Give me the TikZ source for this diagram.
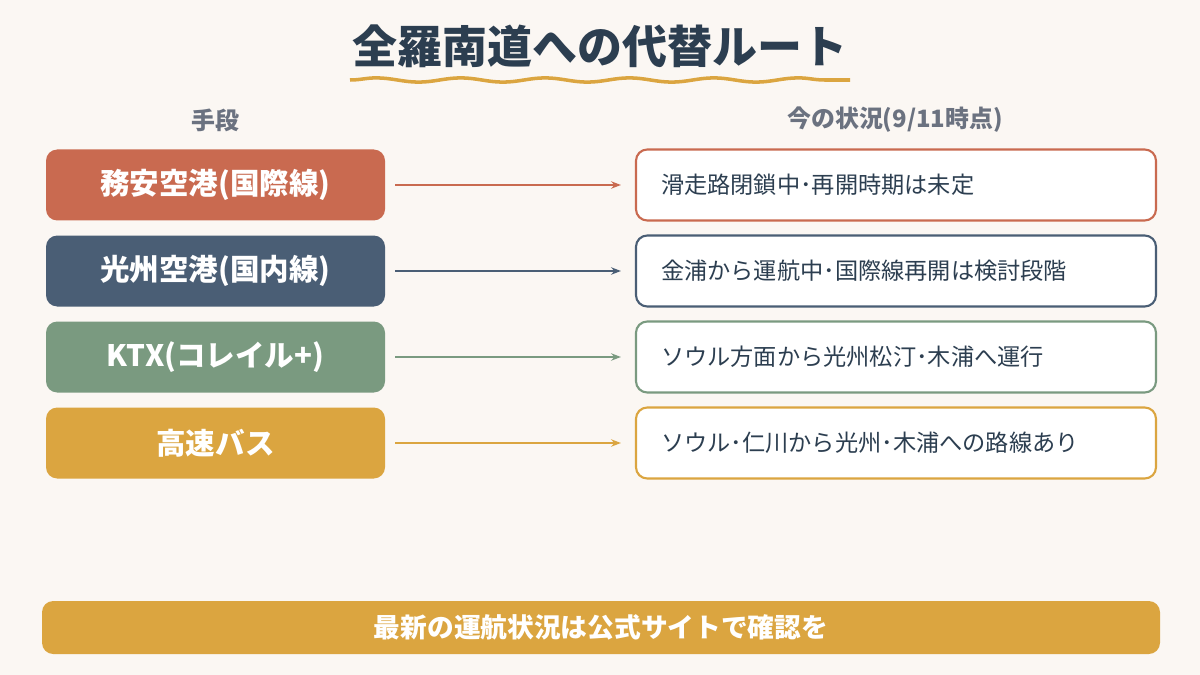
\documentclass[tikz,border=0pt]{standalone}
\usepackage{fontspec}
\setmainfont{Noto Sans CJK JP}
\usetikzlibrary{arrows.meta, positioning, decorations.pathmorphing}
\definecolor{bgcream}{HTML}{FBF7F3}
\definecolor{titledark}{HTML}{2C3E50}
\definecolor{headgrey}{HTML}{6B7280}
\definecolor{routered}{HTML}{C96A50}
\definecolor{routenavy}{HTML}{4A5E75}
\definecolor{routegreen}{HTML}{7A9A80}
\definecolor{routegold}{HTML}{DBA540}
\tikzset{
  means/.style={draw=none, rounded corners=8pt, minimum width=339*0.025cm, minimum height=71*0.025cm, text=white, font=\fontsize{21}{21}\selectfont\bfseries},
  status/.style={fill=white, line width=1.5pt, rounded corners=8pt, minimum width=520*0.025cm, minimum height=71*0.025cm, text width=470*0.025cm, align=left, text=titledark, font=\fontsize{16.5}{16.5}\selectfont},
  head/.style={text=headgrey, font=\fontsize{17}{17}\selectfont\bfseries},
  link/.style={line width=1.2pt, -{Stealth[length=7pt]}}
}
\begin{document}
\begin{tikzpicture}[x=0.025cm, y=-0.025cm]
  % Background
  \fill[bgcream] (0,0) rectangle (1200,675);
  \useasboundingbox (0,0) rectangle (1200,675);

  % Title
  \node[text=titledark, font=\fontsize{32}{32}\selectfont\bfseries] (title) at (600,46) {全羅南道への代替ルート};
  \draw[routegold, line width=2.5pt, decorate, decoration={snake, amplitude=1.5pt, segment length=60pt}] (350,80) -- (850,80);

  % Column heads
  \node[head] (headL) at (215,120) {手段};
  \node[head] (headR) at (895,120) {今の状況(9/11時点)};

  % Rows
  \foreach \y/\col/\nm/\lbl/\txt in {
      185/routered/a/務安空港(国際線)/滑走路閉鎖中･再開時期は未定,
      271/routenavy/b/光州空港(国内線)/金浦から運航中･国際線再開は検討段階,
      357/routegreen/c/KTX(コレイル+)/ソウル方面から光州松汀･木浦へ運行,
      443/routegold/d/高速バス/ソウル･仁川から光州･木浦への路線あり} {
    \node[means, fill=\col] (m\nm) at (215.5,\y) {\lbl};
    \node[status, draw=\col] (s\nm) at (896,\y) {\txt};
    \draw[link, \col] ([xshift=10*0.025cm]m\nm.east) -- ([xshift=-14*0.025cm]s\nm.west);
  }

  % Bottom note
  \node[fill=routegold, rounded corners=8pt, minimum width=1118*0.025cm, minimum height=53*0.025cm, text=white, font=\fontsize{19}{19}\selectfont\bfseries] (note) at (601,627.5) {最新の運航状況は公式サイトで確認を};
\end{tikzpicture}
\end{document}
